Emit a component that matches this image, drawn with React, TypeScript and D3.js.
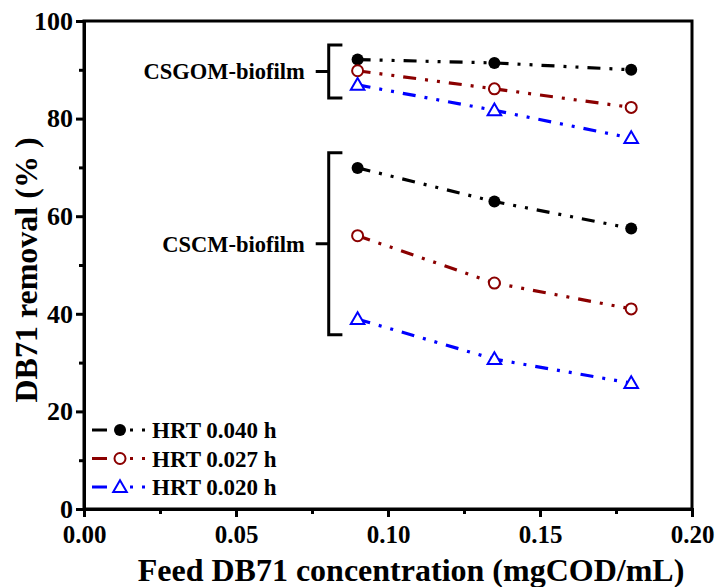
import React, { useEffect, useRef } from 'react';
import * as d3 from 'd3';

// feed concentration (mgCOD/mL)
const concentrations = [0.09, 0.135, 0.18];

// DB71 removal (%)
const gomHrt040 = [92.1, 91.4, 90.0];
const gomHrt027 = [89.8, 86.1, 82.3];
const gomHrt020 = [86.9, 81.7, 76.0];
const cmHrt040 = [69.9, 63.0, 57.5];
const cmHrt027 = [56.0, 46.3, 41.0];
const cmHrt020 = [38.9, 30.7, 25.8];

const seriesNames = ['HRT 0.040 h', 'HRT 0.027 h', 'HRT 0.020 h'];
const seriesColors = ['#000000', '#8b0000', '#0000ff'];
const seriesMarkers = ['dot', 'circle', 'triangle'];

const xTicks = [0, 0.05, 0.1, 0.15, 0.2];
const xMinorTicks = [0.025, 0.075, 0.125, 0.175];
const yTicks = [0, 20, 40, 60, 80, 100];
const yMinorTicks = [10, 30, 50, 70, 90];

// brackets: [label, top, bottom] in % removal
const groups: [string, number, number][] = [
    ['CSGOM-biofilm', 95.1, 84.2],
    ['CSCM-biofilm', 73.0, 35.7],
];

const FONT = '"Liberation Serif", "Times New Roman", serif';
const DASH = '13,9,3,9,3,9';

export default function App() {
    const ref = useRef<SVGSVGElement>(null);

    const width = 715;
    const height = 587;
    const margin = { left: 84, right: 23, top: 21, bottom: 78 };
    const w = width - margin.left - margin.right;
    const h = height - margin.top - margin.bottom;

    useEffect(() => {
        const svg = d3.select(ref.current);
        svg.selectAll('*').remove();

        const x = d3.scaleLinear().domain([0, 0.2]).range([0, w]);
        const y = d3.scaleLinear().domain([0, 100]).range([h, 0]);

        const g = svg.append('g').attr('transform', `translate(${margin.left},${margin.top})`);

        // frame
        g.append('rect')
            .attr('width', w).attr('height', h)
            .attr('fill', 'none').attr('stroke', '#000').attr('stroke-width', 3);

        // axes
        const xAxis = g.append('g').attr('transform', `translate(0,${h})`)
            .call(d3.axisBottom(x).tickValues(xTicks).tickFormat(d3.format('.2f')).tickSizeOuter(0).tickSize(8).tickPadding(8));
        g.append('g').attr('transform', `translate(0,${h})`)
            .call(d3.axisBottom(x).tickValues(xMinorTicks).tickFormat(() => '').tickSizeOuter(0).tickSize(5))
            .call(a => a.select('.domain').remove());
        const yAxis = g.append('g')
            .call(d3.axisLeft(y).tickValues(yTicks).tickSizeOuter(0).tickSize(8).tickPadding(3));
        g.append('g')
            .call(d3.axisLeft(y).tickValues(yMinorTicks).tickFormat(() => '').tickSizeOuter(0).tickSize(5))
            .call(a => a.select('.domain').remove());

        svg.selectAll('.tick line').attr('stroke', '#000').attr('stroke-width', 3);
        svg.selectAll('.domain').attr('stroke', '#000').attr('stroke-width', 3);
        xAxis.selectAll('text')
            .attr('font-family', FONT).attr('font-weight', 'bold').attr('font-size', 25).attr('fill', '#000');
        yAxis.selectAll('text')
            .attr('font-family', FONT).attr('font-weight', 'bold').attr('font-size', 26).attr('fill', '#000');

        // axis titles
        svg.append('text')
            .attr('x', 411).attr('y', 581)
            .attr('text-anchor', 'middle')
            .attr('font-family', FONT).attr('font-weight', 'bold').attr('font-size', 32)
            .text('Feed DB71 concentration (mgCOD/mL)');
        svg.append('text')
            .attr('transform', `translate(37,${margin.top + h / 2 + 5}) rotate(-90)`)
            .attr('text-anchor', 'middle')
            .attr('font-family', FONT).attr('font-weight', 'bold').attr('font-size', 32)
            .text('DB71 removal (% )');

        const line = d3.line<number>()
            .x((_, i) => x(concentrations[i]))
            .y(d => y(d));

        const drawMarker = (sel: d3.Selection<SVGGElement, unknown, null, undefined>, kind: string, color: string, cx: number, cy: number) => {
            if (kind === 'dot') {
                sel.append('circle').attr('cx', cx).attr('cy', cy).attr('r', 6).attr('fill', color);
            } else if (kind === 'circle') {
                sel.append('circle').attr('cx', cx).attr('cy', cy).attr('r', 5.5)
                    .attr('fill', '#fff').attr('stroke', color).attr('stroke-width', 2);
            } else {
                const sym = d3.symbol().type(d3.symbolTriangle).size(80);
                sel.append('path').attr('d', sym()).attr('transform', `translate(${cx},${cy + 1})`)
                    .attr('fill', '#fff').attr('stroke', color).attr('stroke-width', 2);
            }
        };

        const allSeries = [gomHrt040, gomHrt027, gomHrt020, cmHrt040, cmHrt027, cmHrt020];
        allSeries.forEach((vals, k) => {
            const idx = k % 3;
            const color = seriesColors[idx];
            const sg = g.append('g');
            sg.append('path').attr('d', line(vals))
                .attr('fill', 'none').attr('stroke', color).attr('stroke-width', 3.2)
                .attr('stroke-dasharray', DASH);
            vals.forEach((v, i) => drawMarker(sg, seriesMarkers[idx], color, x(concentrations[i]), y(v)));
        });

        // group brackets
        const bx = x(0.0805);
        const bEnd = x(0.085);
        groups.forEach(([label, top, bottom]) => {
            const mid = (y(top) + y(bottom)) / 2;
            g.append('path')
                .attr('d', `M${bEnd},${y(top)}H${bx}V${y(bottom)}H${bEnd}M${bx},${mid}H${bx - 13}`)
                .attr('fill', 'none').attr('stroke', '#000').attr('stroke-width', 3);
            g.append('text')
                .attr('x', bx - 24).attr('y', mid).attr('dy', '0.35em')
                .attr('text-anchor', 'end')
                .attr('font-family', FONT).attr('font-weight', 'bold').attr('font-size', 22.5)
                .text(label);
        });

        // legend
        const lg = g.append('g').attr('transform', 'translate(8,409)');
        seriesNames.forEach((name, i) => {
            const ly = i * 28.5;
            const color = seriesColors[i];
            const row = lg.append('g');
            row.append('line').attr('x1', 0).attr('x2', 15).attr('y1', ly).attr('y2', ly)
                .attr('stroke', color).attr('stroke-width', 3);
            row.append('line').attr('x1', 38).attr('x2', 56).attr('y1', ly).attr('y2', ly)
                .attr('stroke', color).attr('stroke-width', 3).attr('stroke-dasharray', '3,9');
            drawMarker(row, seriesMarkers[i], color, 28, ly);
            row.append('text').attr('x', 60).attr('y', ly).attr('dy', '0.35em')
                .attr('font-family', FONT).attr('font-weight', 'bold').attr('font-size', 23)
                .text(name);
        });
    }, []);

    return (
        <svg ref={ref} width={width} height={height}
            style={{ position: 'absolute', left: 0, top: 0, background: '#fff' }} />
    );
}
